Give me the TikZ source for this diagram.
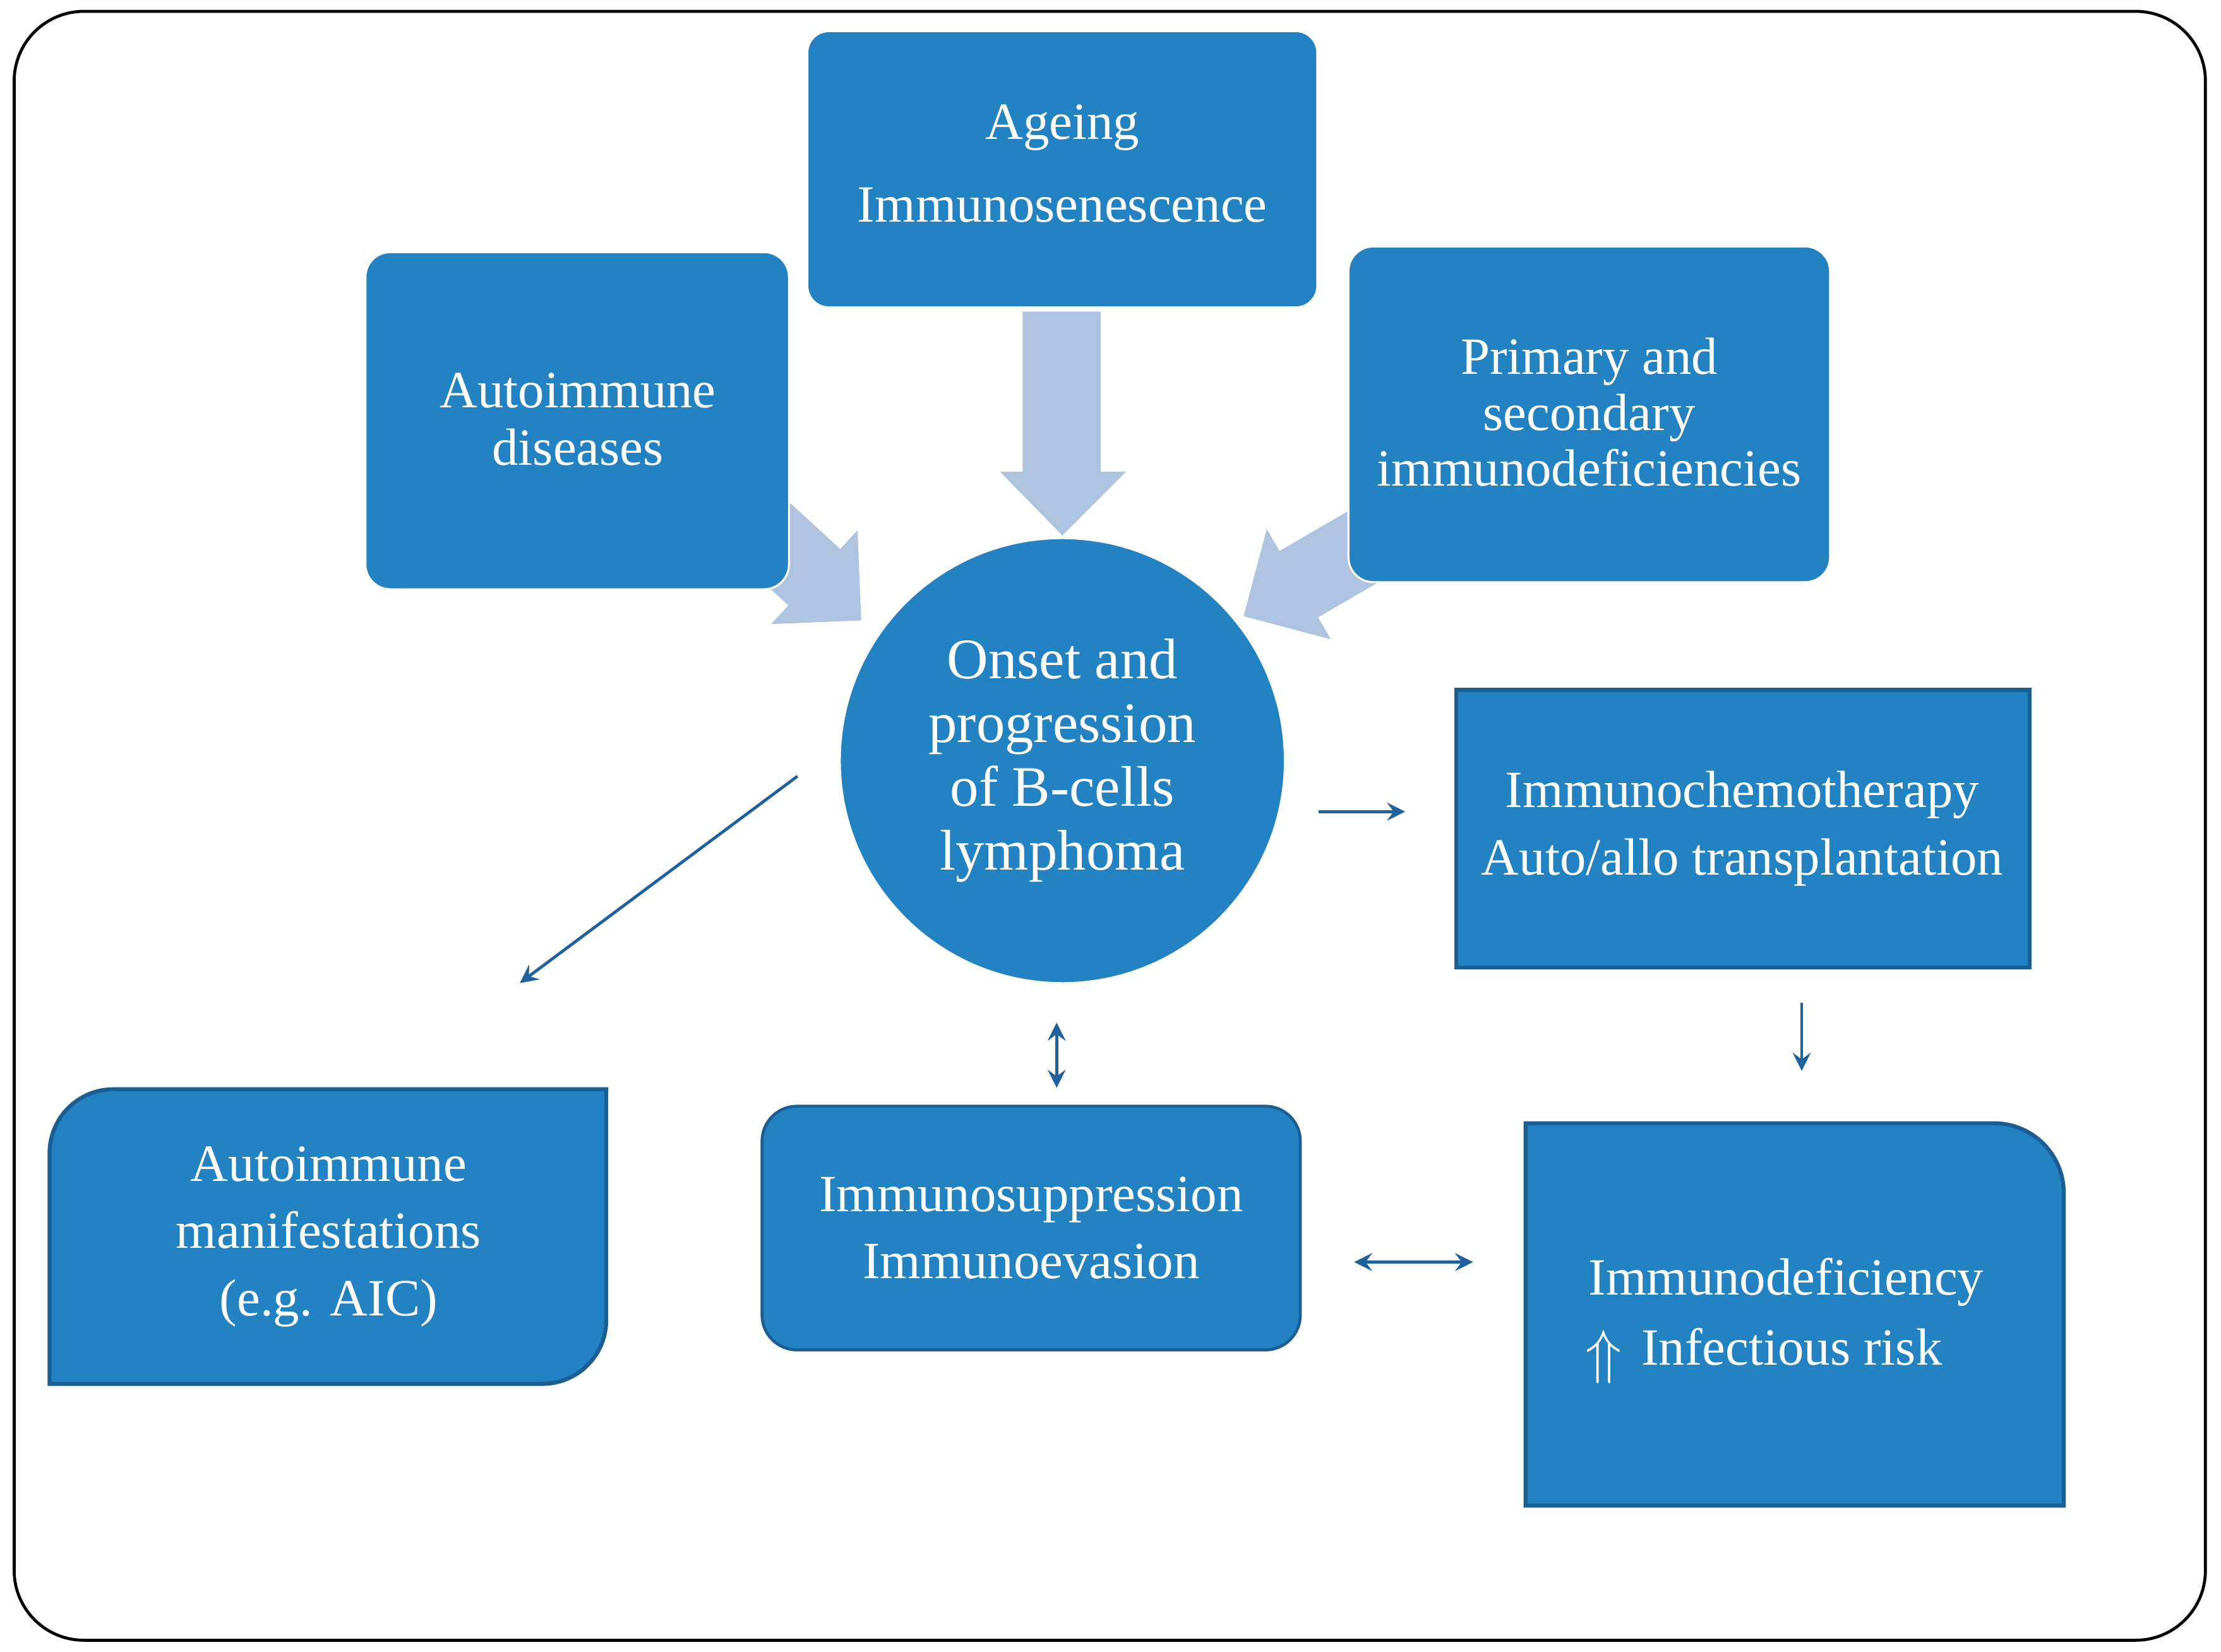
\documentclass[tikz,border=0pt]{standalone}
\usepackage{fontspec}
\setmainfont{Liberation Serif}
\begin{document}
\definecolor{bx}{HTML}{2382C1}
\definecolor{bd}{HTML}{1A5E94}
\definecolor{la}{HTML}{AEC3DF}
\definecolor{ln}{HTML}{1F619C}
\begin{tikzpicture}[x=0.01cm,y=-0.01cm,
  txt/.style={text=white,font=\fontsize{10.5}{15}\selectfont,align=center},
  thin/.style={draw=ln,line width=0.6pt,-stealth},
  both/.style={draw=ln,line width=0.6pt,stealth-stealth}]
\useasboundingbox (0,0) rectangle (1568,1166);
\draw[line width=0.6pt,rounded corners=14pt] (10,8) rectangle (1557,1158);
% block arrows
\fill[la] (722,220)--(777,220)--(777,333)--(795,333)--(750,378)--(706,333)--(722,333)--cycle;
\fill[la] (530.6,330.1)--(593.2,387.6)--(605.4,374.4)--(608,438)--(544.4,440.6)--(556.6,427.4)--(494,369.9)--cycle;
\fill[la] (976.9,346.3)--(903.3,389)--(894.3,373.5)--(878,435)--(939.5,451.3)--(930.5,435.8)--(1004.1,393.1)--cycle;
% top boxes
\draw[fill=bx,draw=white,rounded corners=4.3pt] (570,22) rectangle (930,217);
\node[txt] (age) at (750,90) {Ageing};
\node[txt] (imse) at (750,145) {Immunosenescence};
\draw[fill=bx,draw=white,rounded corners=5pt] (258,178) rectangle (557,416);
\node[txt,font=\fontsize{10.5}{11.5}\selectfont] (aid) at (408,296) {Autoimmune\\diseases};
\draw[fill=bx,draw=white,rounded corners=5pt] (952,174) rectangle (1292,411);
\node[txt,font=\fontsize{10.5}{11.2}\selectfont] (pri) at (1122,291) {Primary and\\secondary\\immunodeficiencies};
% circle
\node[circle,fill=bx,draw=white,minimum size=3.14cm,inner sep=0,
  txt,font=\fontsize{11.5}{12.8}\selectfont] (c) at (750,537) {Onset and\\progression\\of B-cells\\lymphoma};
% right boxes
\draw[fill=bx,draw=bd,line width=0.8pt] (1028,487) rectangle (1433,683);
\node[txt,font=\fontsize{10.5}{13.5}\selectfont] (chem) at (1230,585) {Immunochemotherapy\\Auto/allo transplantation};
\draw[fill=bx,draw=bd,line width=0.8pt] (1077,1063)--(1077,793)[rounded corners=14pt]--(1457,793)[sharp corners]--(1457,1063)--cycle;
\node[txt] (idf) at (1261,905) {Immunodeficiency};
\node[txt] (inf) at (1265,951) {Infectious risk};
\node[txt,font=\fontsize{13}{13}\selectfont,inner sep=0] (up) at (1132,958) {$\Uparrow$};
% middle box
\draw[fill=bx,draw=bd,line width=0.6pt,rounded corners=7pt] (538,781) rectangle (918,953);
\node[txt,font=\fontsize{10.5}{13.5}\selectfont] (sup) at (728,867) {Immunosuppression\\Immunoevasion};
% left box
\draw[fill=bx,draw=bd,line width=0.8pt] (35,977)[rounded corners=12.8pt]--(35,769)[sharp corners]--(428,769)[rounded corners=12.8pt]--(428,977)[sharp corners]--cycle;
\node[txt,font=\fontsize{10.5}{13.5}\selectfont] (man) at (232,873) {Autoimmune\\manifestations\\(e.g. AIC)};
% thin arrows
\coordinate (a1) at (563,548); \coordinate (a2) at (367,694);
\coordinate (b1) at (931,573); \coordinate (b2) at (992,573);
\coordinate (c1) at (1272,708); \coordinate (c2) at (1272,756);
\coordinate (d1) at (746,722); \coordinate (d2) at (746,768);
\coordinate (e1) at (956,891); \coordinate (e2) at (1040,891);
\draw[thin] (a1)--(a2);
\draw[thin] (b1)--(b2);
\draw[thin] (c1)--(c2);
\draw[both] (d1)--(d2);
\draw[both] (e1)--(e2);
\end{tikzpicture}
\end{document}
